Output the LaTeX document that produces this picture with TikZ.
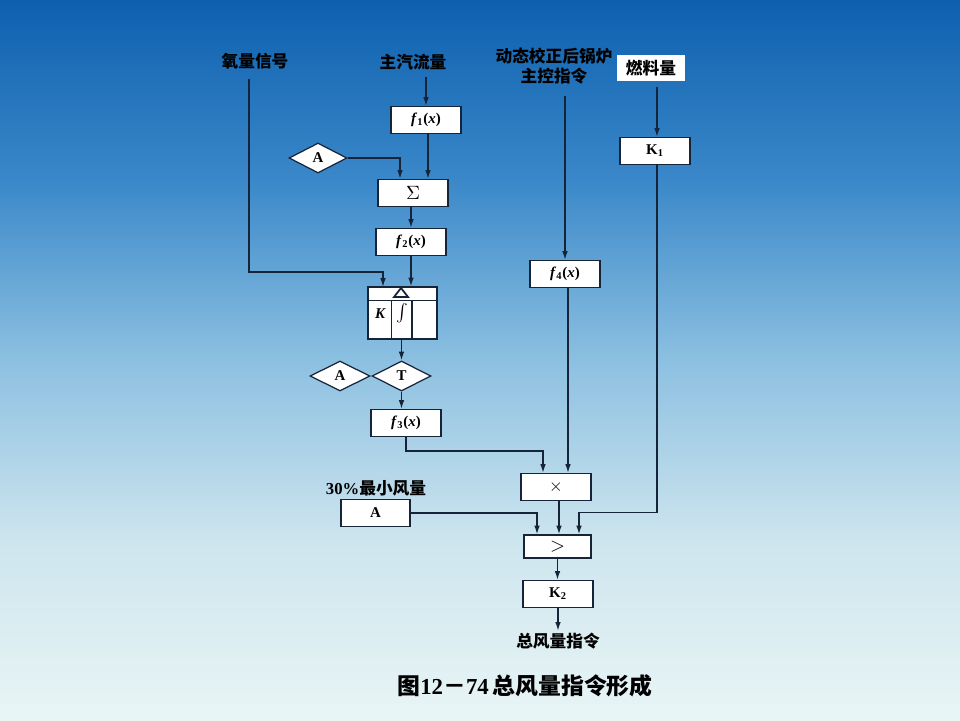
\documentclass[tikz,border=0pt]{standalone}
\usepackage{fontspec}
\setmainfont{Liberation Serif}
\newfontfamily\cjk{Noto Sans CJK SC}
\usetikzlibrary{arrows.meta,shapes.geometric}
\definecolor{skytop}{HTML}{0E60AF}
\definecolor{skyhigh}{HTML}{3A88C9}
\definecolor{skymid}{HTML}{8CC0E1}
\definecolor{skylow}{HTML}{CDE5EE}
\definecolor{skybot}{HTML}{E9F5F5}
\definecolor{wire}{HTML}{16243A}
\pgfdeclareverticalshading{sky}{100bp}{color(0bp)=(skybot); color(25bp)=(skybot); color(37.5bp)=(skylow); color(50bp)=(skymid); color(62.5bp)=(skyhigh); color(75bp)=(skytop); color(100bp)=(skytop)}
\newcommand{\fx}[1]{\textbf{\textit{f}\textsubscript{#1}(\textit{x})}}

\begin{document}
\begin{tikzpicture}[x=0.02cm, y=-0.02cm,
    box/.style={rectangle, draw=wire, line width=0.7pt, fill=white, minimum width=1.4cm, minimum height=0.54cm, inner sep=0pt, font=\fontsize{8.5}{10}\selectfont\bfseries},
    gate/.style={diamond, draw=wire, line width=0.7pt, fill=white, minimum width=1.18cm, minimum height=0.6cm, inner sep=0pt, font=\fontsize{8.5}{10}\selectfont\bfseries},
    tag/.style={font=\fontsize{9.5}{11}\cjk\bfseries, align=center, inner sep=1pt},
    arrow/.style={-{Latex[length=5pt,width=3.2pt]}, line width=0.8pt, color=wire}
]
\useasboundingbox (0,0) rectangle (960,720);
\shade[shading=sky] (0,0) rectangle (960,720);

% inputs
\node[tag] (o2) at (255,61) {氧量信号};
\node[tag] (steam) at (413,62) {主汽流量};
\node[tag] (master) at (554,66) {动态校正后锅炉\\主控指令};
\node[tag, fill=white, minimum width=1.36cm, minimum height=0.52cm] (fuel) at (651,68) {燃料量};

% left chain
\node[box] (f1) at (426,120) {\fx{1}};
\node[gate, minimum width=1.16cm] (a1) at (318,158) {A};
\node[box] (sum) at (413,193) {\mdseries\fontsize{11}{12}\selectfont$\Sigma$};
\node[box] (f2) at (411,242) {\fx{2}};
\node[box, minimum width=1.38cm, minimum height=1.04cm] (pid) at (402.5,313) {};
\draw[wire, line width=0.7pt] (368,300.5) -- (437,300.5);
\draw[wire, line width=0.7pt] (391.5,300.5) -- (391.5,339);
\draw[wire, line width=0.9pt] (412,300.5) -- (412,339);
\draw[wire, line width=1pt] (394,297) -- (401,288) -- (408,297) -- cycle;
\node[font=\fontsize{8.5}{10}\selectfont\bfseries\itshape] (pidk) at (380,314) {K};
\node[font=\fontsize{8}{10}\selectfont] (pidi) at (402,313) {$\int$};
\node[gate, minimum width=1.2cm] (a2) at (340,376) {A};
\node[gate] (tsw) at (401.5,376) {T};
\node[box] (f3) at (406,423) {\fx{3}};

% right chain
\node[box] (f4) at (565,274) {\fx{4}};
\node[box] (k1) at (655,151) {K\textsubscript{1}};
\node[box] (mult) at (556,487) {\mdseries\fontsize{10}{12}\selectfont$\times$};
\node[tag] (minair) at (376,488) {{\rmfamily 30\%}最小风量};
\node[box, minimum width=1.38cm] (amin) at (375.5,513) {A};
\node[box, minimum width=1.34cm, minimum height=0.46cm] (maxsel) at (557.5,546.5) {\mdseries\fontsize{11}{12}\selectfont$>$};
\node[box] (k2) at (558,594) {K\textsubscript{2}};
\node[tag] (total) at (558,641) {总风量指令};
\node[font=\fontsize{13}{15}\selectfont\bfseries] (caption) at (525,686) {{\cjk 图}12{\cjk －}74\,{\cjk 总风量指令形成}};

\coordinate (pidin) at (383,287);
\draw[arrow] ([xshift=-0.12cm,yshift=-0.16cm]o2.south) |- ([yshift=0.3cm]pidin) -- (pidin);
\draw[arrow, shorten <=3pt] (steam.south -| f1.north) -- (f1.north);
\draw[arrow] ([xshift=0.04cm]f1.south) -- ([xshift=0.04cm]f1.south |- sum.north);
\draw[arrow] (a1.east) -| ([xshift=-0.26cm]sum.north);
\draw[arrow] (f2.north |- sum.south) -- (f2.north);
\draw[arrow] (f2.south) -- (f2.south |- pid.north);
\draw[arrow] (pid.south -| tsw.north) -- (tsw.north);
\draw[arrow] (tsw.south) -- (tsw.south |- f3.north);
\draw[arrow] (f3.south) |- ([xshift=-0.26cm,yshift=0.44cm]mult.north) -- ([xshift=-0.26cm]mult.north);
\draw[arrow, shorten <=6pt] (master.south -| f4.north) -- (f4.north);
\draw[arrow] ([xshift=0.06cm]f4.south) -- ([xshift=0.06cm]f4.south |- mult.north);
\draw[arrow, shorten <=3pt] ([xshift=0.04cm]fuel.south -| k1.north) -- ([xshift=0.04cm]k1.north);
\draw[arrow] ([xshift=0.04cm]k1.south) |- ([xshift=0.43cm,yshift=0.44cm]maxsel.north) -- ([xshift=0.43cm]maxsel.north);
\draw[arrow] ([xshift=0.06cm]mult.south) -- ([xshift=0.06cm]mult.south |- maxsel.north);
\draw[arrow] (amin.east) -| ([xshift=-0.41cm]maxsel.north);
\draw[arrow] (maxsel.south) -- (maxsel.south |- k2.north);
\draw[arrow] (k2.south) -- (total.north);
\end{tikzpicture}
\end{document}
